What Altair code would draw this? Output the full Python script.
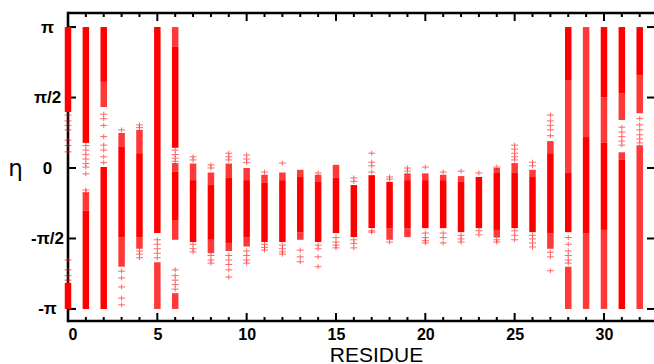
import altair as alt
import pandas as pd

PI = 3.14159

# Dense (solid) bands: residue, lower eta, upper eta
dense_res = [0, 0, 1, 1, 2, 2, 3, 4, 5, 6, 6, 7, 8, 9, 10, 11, 12, 13, 14, 15, 16, 17,
             18, 19, 20, 21, 22, 23, 24, 25, 26, 27, 28, 28, 29, 30, 30, 31, 31, 32]
dense_lo = [1.25, -PI, 0.56, -PI, 1.92, -PI, -1.54, -1.54, -1.45, 0.45, -1.16, -1.65, -1.60,
            -1.67, -1.54, -1.65, -1.65, -1.43, -1.65, -1.45, -1.54, -1.34, -1.34, -1.34, -1.34,
            -1.34, -1.43, -1.34, -1.38, -1.34, -1.43, -1.45, 1.96, -1.43, -1.45, 1.58, -1.38,
            1.67, -PI, 2.07]
dense_hi = [PI, -2.56, PI, -0.95, PI, 0.02, 0.47, 0.33, PI, 2.70, -0.08, -0.27, -0.38,
            -0.22, -0.27, -0.33, -0.27, -0.20, -0.31, -0.22, -0.38, -0.16, -0.31, -0.27, -0.27,
            -0.27, -0.31, -0.20, -0.11, -0.11, -0.20, 0.33, PI, -0.11, 0.69, PI, 0.56,
            PI, 0.18, PI]

# Semi-dense (striped) bands
semi_res = [1, 2, 3, 3, 4, 4, 5, 6, 6, 6, 6, 7, 8, 8, 9, 9, 10, 10, 11, 12, 13, 13, 14, 15,
            18, 19, 19, 20, 21, 22, 24, 24, 25, 26, 27, 27, 28, 28, 29, 29, 30, 30, 31, 31,
            32, 32]
semi_lo = [-0.95, 1.36, 0.47, -2.20, 0.33, -1.80, -PI, 2.70, -0.08, -1.60, -PI, -0.27, -0.38,
           -1.90, -0.22, -1.85, -0.27, -1.75, -0.33, -0.27, -0.20, -1.60, -0.31, -0.22,
           -1.60, -0.27, -1.54, -0.27, -0.27, -0.31, -0.11, -1.55, -0.11, -0.20, 0.33, -1.80,
           -0.11, -PI, 0.69, -PI, 0.56, -PI, 1.07, 0.18, 1.22, -PI]
semi_hi = [-0.55, 1.92, 0.78, -1.54, 0.85, -1.54, -2.10, PI, 0.11, -1.16, -2.79, 0.10, -0.10,
           -1.60, 0.10, -1.67, 0.00, -1.54, -0.15, -0.10, -0.04, -1.43, -0.15, 0.07,
           -1.34, -0.12, -1.34, -0.12, -0.15, -0.18, 0.00, -1.38, 0.11, -0.04, 0.60, -1.45,
           1.96, -2.20, PI, -1.45, 1.58, -1.38, 1.67, 0.35, 2.07, 0.51]

# Sparse individual points
pt_res = ([0] * 11 + [1] * 9 + [2] * 8 + [3] * 6 + [4] * 5 + [5] * 5 + [6] * 9 + [7] * 5 +
          [8] * 5 + [9] * 8 + [10] * 7 + [11] * 4 + [12] * 5 + [13] * 3 + [14] * 5 +
          [15] * 4 + [16] * 5 + [17] * 6 + [18] * 3 + [19] * 2 + [20] * 5 + [21] * 4 +
          [22] * 4 + [23] * 3 + [24] * 3 + [25] * 8 + [26] * 6 + [27] * 8 + [28] * 6 +
          [31] * 5 + [32] * 6)
pt_eta = [1.18, 1.05, 0.95, 0.85, 0.62, 0.50, 0.36, -2.05, -2.27, -2.40, -2.50,
          0.50, 0.40, 0.30, 0.20, 0.10, 0.02, -0.13, -0.49, -0.55,
          1.20, 1.10, 0.95, 0.70, 0.51, 0.40, 0.25, 0.12,
          0.85, -2.30, -2.45, -2.65, -2.90, -3.05,
          0.96, 0.90, -1.85, -1.92, -2.00,
          -1.60, -1.70, -1.80, -1.90, -2.00,
          0.40, 0.30, 0.22, 0.15, -2.27, -2.40, -2.50, -2.60, -2.70,
          0.25, 0.18, -1.70, -1.80, -1.87,
          0.07, 0.00, -1.95, -2.05, -2.12,
          0.33, 0.25, 0.18, -1.95, -2.05, -2.15, -2.27, -2.43,
          0.29, 0.20, 0.12, -1.85, -1.95, -2.05, -2.12,
          -0.09, -1.70, -1.77, -1.83,
          0.11, -1.72, -1.80, -1.87, -1.92,
          -1.83, -1.98, -2.09,
          -0.11, -1.72, -1.80, -1.98, -2.20,
          -1.55, -1.65, -1.72, -1.78,
          -0.22, -0.30, -1.60, -1.68, -1.78,
          0.33, 0.13, 0.05, -0.09, -1.40, -1.43,
          -0.20, -0.25, -1.65,
          0.00, -0.07,
          0.02, -1.45, -1.55, -1.62, -1.67,
          -0.09, -1.45, -1.55, -1.67,
          -0.07, -1.50, -1.58, -1.65,
          -0.11, -1.40, -1.49,
          0.02, -1.60, -1.65,
          0.51, 0.42, 0.33, 0.25, 0.18, -1.40, -1.50, -1.60,
          0.13, 0.05, -1.50, -1.58, -1.67, -1.76,
          1.18, 1.05, 0.95, 0.85, 0.72, -1.88, -1.98, -2.29,
          -1.55, -1.70, -1.85, -1.95, -2.05, -2.12,
          0.91, 0.80, 0.70, 0.60, 0.51,
          1.10, 0.96, 0.85, 0.74, 0.65, 0.56]

y_ticks = [-PI, -PI / 2, 0, PI / 2, PI]
x_major = [0, 5, 10, 15, 20, 25, 30]
x_minor = [i for i in range(0, 33) if i % 5 != 0]

W, H = 586, 308
RED = "#ff0000"
FONT = "Liberation Sans"

xs = alt.Scale(domain=[0, 32.8], nice=False, zero=False)
ys = alt.Scale(domain=[-3.41, 3.455], nice=False, zero=False)

dense_df = pd.DataFrame({"res": dense_res, "lo": dense_lo, "hi": dense_hi})
semi_df = pd.DataFrame({"res": semi_res, "lo": semi_lo, "hi": semi_hi})
pt_df = pd.DataFrame({"res": pt_res, "eta": pt_eta})
yt_df = pd.DataFrame({"v": y_ticks})
xM_df = pd.DataFrame({"v": x_major})
xm_df = pd.DataFrame({"v": x_minor})
one = pd.DataFrame({"a": [0]})

label_expr = ("datum.value > 3 ? 'π' : datum.value > 1 ? 'π/2' : datum.value > -1 ? '0' : "
              "datum.value > -3 ? '-π/2' : '-π'")

dense = alt.Chart(dense_df).mark_rule(color=RED, strokeWidth=6.5).encode(
    x=alt.X("res:Q", scale=xs, axis=alt.Axis(
        values=x_major, ticks=False, domain=False, grid=False,
        labelFont=FONT, labelFontSize=16, labelFontWeight="bold", labelColor="black",
        labelPadding=5, title="RESIDUE", titleFont=FONT, titleFontSize=21,
        titleFontWeight="normal", titleColor="black", titleX=308, titleY=40,
        titleAlign="center", titleBaseline="alphabetic")),
    y=alt.Y("lo:Q", scale=ys, axis=alt.Axis(
        values=y_ticks, labelExpr=label_expr, ticks=False, domain=False, grid=False,
        labelFont=FONT, labelFontSize=17, labelFontWeight="bold", labelColor="black",
        labelAlign="center", labelBaseline="middle", labelPadding=21,
        title="η", titleFont="DejaVu Sans", titleFontSize=23, titleFontWeight="normal",
        titleColor="black", titleAngle=0, titleX=-53, titleY=155,
        titleAlign="center", titleBaseline="middle")),
    y2="hi:Q",
)

semi = alt.Chart(semi_df).mark_rule(color=RED, strokeWidth=6.5, opacity=0.78).encode(
    x=alt.X("res:Q", scale=xs), y=alt.Y("lo:Q", scale=ys), y2="hi:Q")

pts = alt.Chart(pt_df).mark_point(
    shape="M-1,0L1,0M0,-0.7L0,0.7", filled=False, size=49, strokeWidth=1,
    color=RED, opacity=0.6).encode(
    x=alt.X("res:Q", scale=xs), y=alt.Y("eta:Q", scale=ys))

tick_kw = dict(color="black", strokeWidth=2)
left_t = alt.Chart(yt_df).mark_rule(**tick_kw).encode(
    y=alt.Y("v:Q", scale=ys), x=alt.value(0), x2=alt.value(8))
right_t = alt.Chart(yt_df).mark_rule(**tick_kw).encode(
    y=alt.Y("v:Q", scale=ys), x=alt.value(W - 7), x2=alt.value(W))
bot_M = alt.Chart(xM_df).mark_rule(**tick_kw).encode(
    x=alt.X("v:Q", scale=xs), y=alt.value(H), y2=alt.value(H - 8))
bot_m = alt.Chart(xm_df).mark_rule(**tick_kw).encode(
    x=alt.X("v:Q", scale=xs), y=alt.value(H), y2=alt.value(H - 4))
top_M = alt.Chart(xM_df).mark_rule(**tick_kw).encode(
    x=alt.X("v:Q", scale=xs), y=alt.value(0), y2=alt.value(8))
top_m = alt.Chart(xm_df).mark_rule(**tick_kw).encode(
    x=alt.X("v:Q", scale=xs), y=alt.value(0), y2=alt.value(4))

frame_kw = dict(color="black", strokeWidth=2.6)
f_left = alt.Chart(one).mark_rule(**frame_kw).encode(
    x=alt.value(0), y=alt.value(-1.3), y2=alt.value(H + 1.3))
f_top = alt.Chart(one).mark_rule(**frame_kw).encode(
    y=alt.value(0), x=alt.value(0), x2=alt.value(W))
f_bot = alt.Chart(one).mark_rule(**frame_kw).encode(
    y=alt.value(H), x=alt.value(0), x2=alt.value(W))

chart = alt.layer(
    f_left, f_top, f_bot, left_t, right_t, bot_M, bot_m, top_M, top_m,
    dense, semi, pts
).properties(
    width=W, height=H,
    autosize=alt.AutoSizeParams(type="none"),
    padding={"left": 68, "top": 13, "right": 0, "bottom": 43},
).configure_view(strokeWidth=0)

chart.save("out.html", embed_options={"renderer": "svg", "actions": False})
